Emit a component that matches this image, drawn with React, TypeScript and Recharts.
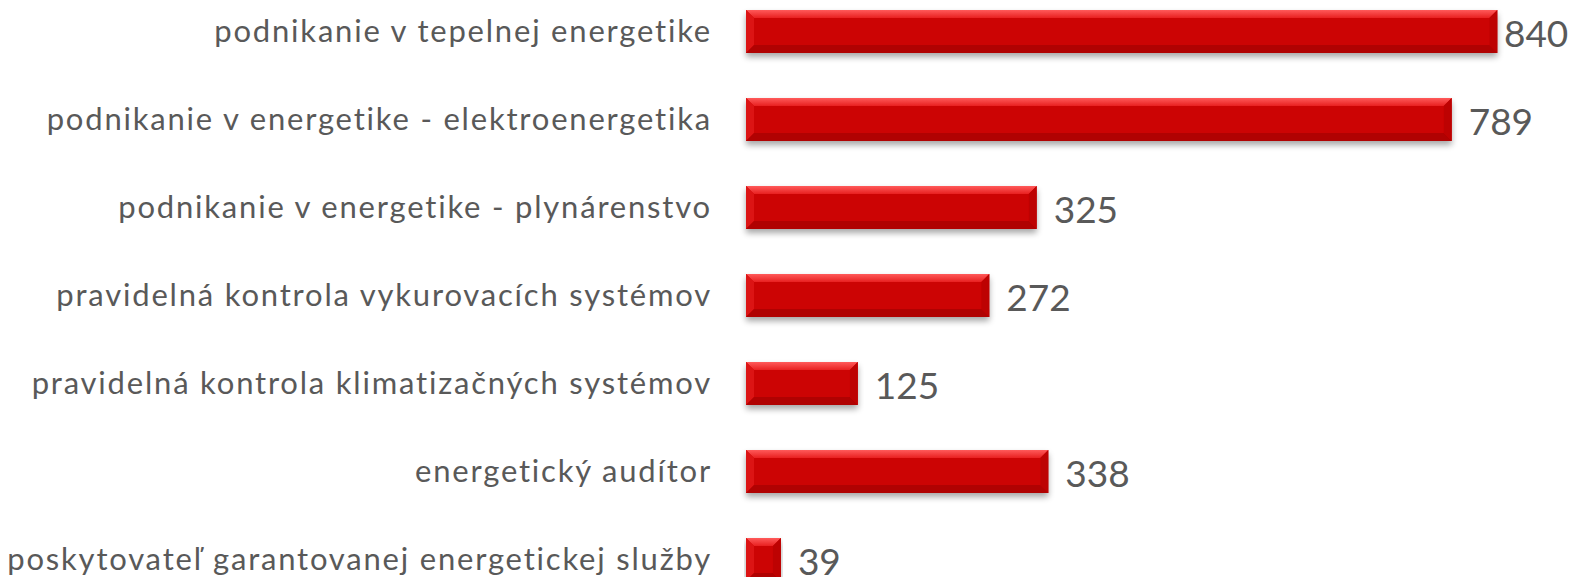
import React from "react";
import { BarChart, Bar, XAxis, YAxis, LabelList } from "recharts";

const categories = [
  "podnikanie v tepelnej energetike",
  "podnikanie v energetike - elektroenergetika",
  "podnikanie v energetike - plynárenstvo",
  "pravidelná kontrola vykurovacích systémov",
  "pravidelná kontrola klimatizačných systémov",
  "energetický audítor",
  "poskytovateľ garantovanej energetickej služby",
];

const counts = [840, 789, 325, 272, 125, 338, 39];

const data = categories.map((name, i) => ({ name, value: counts[i] }));

const TEXT = "#595959";
const FONT = "Lato, 'Open Sans', sans-serif";
const W = 1571;
const VALUE_SIZE = 37;

// bevelled red bar, roughly like the office "3D" bar style
const BevelBar = (props: any) => {
  const { x, y, width, height } = props;
  if (!width || width <= 0) return null;
  const b = Math.min(8, width / 2, height / 2);
  const r = x + width;
  const btm = y + height;
  return (
    <g>
      <rect x={x} y={y + 4} width={width} height={height} fill="#000" opacity={0.35} filter="url(#barShadow)" />
      <rect x={x} y={y} width={width} height={height} fill="#cc0303" />
      <polygon points={`${x},${y} ${r},${y} ${r - b},${y + b} ${x + b},${y + b}`} fill="url(#bevelTop)" />
      <polygon points={`${x},${y} ${x + b},${y + b} ${x + b},${btm - b} ${x},${btm}`} fill="#dc1414" />
      <polygon points={`${x},${btm} ${x + b},${btm - b} ${r - b},${btm - b} ${r},${btm}`} fill="#b00202" />
      <polygon points={`${r},${y} ${r},${btm} ${r - b},${btm - b} ${r - b},${y + b}`} fill="#bd0202" />
      <rect x={x + b} y={y + b} width={Math.max(0, width - 2 * b)} height={height - 2 * b} fill="#cc0404" />
    </g>
  );
};

// value label right of the bar, pulled back inside the chart when it would overflow
const ValueLabel = (props: any) => {
  const { x, y, width, height, value } = props;
  const est = String(value).length * VALUE_SIZE * 0.55;
  let tx = x + width + 17;
  if (tx + est > W - 6) tx = W - 6 - est;
  return (
    <text
      x={tx}
      y={y + height / 2 + 1}
      dominantBaseline="central"
      fill={TEXT}
      fontSize={VALUE_SIZE}
      fontFamily={FONT}
    >
      {value}
    </text>
  );
};

export default function App() {
  return (
    <div style={{ width: W, height: 577, overflow: "hidden", position: "relative", background: "#fff" }}>
      <style>{`body{margin:0}`}</style>
      <div style={{ position: "absolute", top: -13, left: 0 }}>
        <BarChart
          width={W}
          height={616}
          data={data}
          layout="vertical"
          margin={{ top: 0, right: 20, bottom: 0, left: 0 }}
        >
          <defs>
            <filter id="barShadow" x="-5%" y="-30%" width="110%" height="160%">
              <feGaussianBlur stdDeviation="3" />
            </filter>
            <linearGradient id="bevelTop" x1="0" y1="0" x2="0" y2="1">
              <stop offset="0%" stopColor="#ff5a5a" />
              <stop offset="100%" stopColor="#e82020" />
            </linearGradient>
          </defs>
          <XAxis type="number" domain={[0, 900]} hide />
          <YAxis
            type="category"
            dataKey="name"
            width={746}
            axisLine={false}
            tickLine={false}
            tickMargin={28}
            interval={0}
            tick={{ fill: TEXT, fontSize: 31, fontFamily: FONT, letterSpacing: 1.8 }}
          />
          <Bar dataKey="value" barSize={43} shape={<BevelBar />} isAnimationActive={false}>
            <LabelList dataKey="value" content={<ValueLabel />} />
          </Bar>
        </BarChart>
      </div>
    </div>
  );
}
